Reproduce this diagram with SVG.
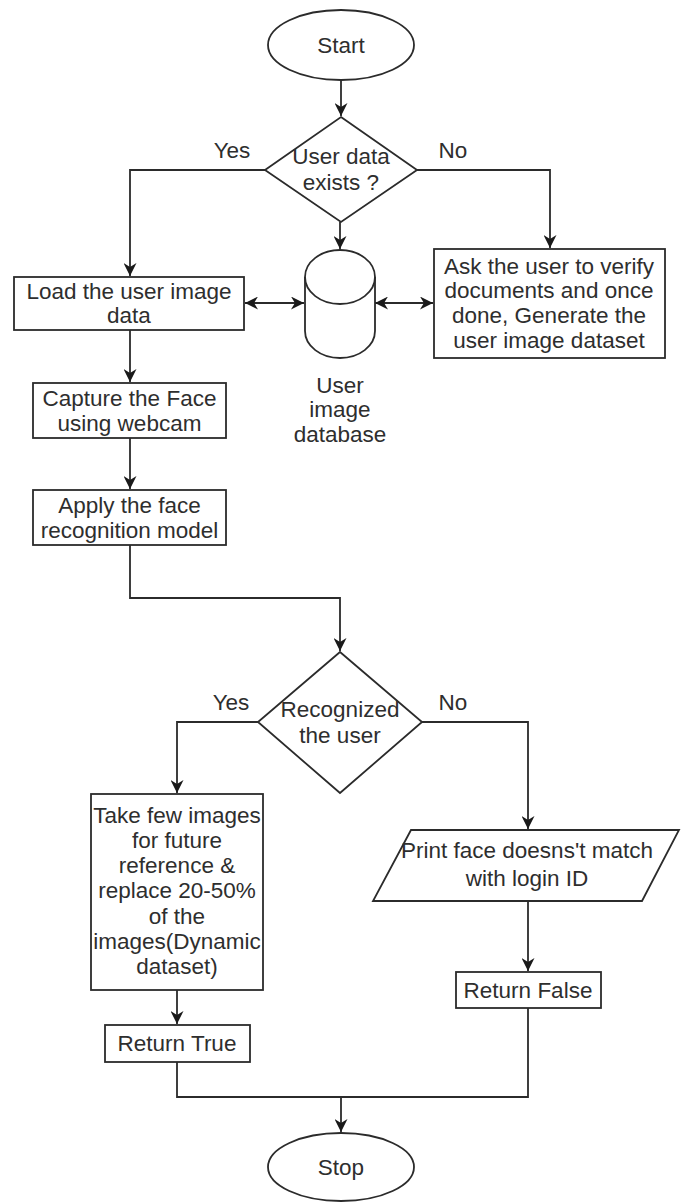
<svg xmlns="http://www.w3.org/2000/svg" width="683" height="1202" viewBox="0 0 683 1202">
<style>
.s{fill:#fff;stroke:#2b2b2b;stroke-width:1.8}
.c{fill:none;stroke:#2b2b2b;stroke-width:1.8}
text{font-family:"Liberation Sans",Arial,sans-serif;font-size:22.5px;fill:#2e2e2e;text-anchor:middle}
</style>
<defs>
<marker id="a" viewBox="0 0 10 10" refX="10" refY="5" markerWidth="13" markerHeight="13" markerUnits="userSpaceOnUse" orient="auto-start-reverse">
<path d="M0,0 L10,5 L0,10 L3,5 z" fill="#1a1a1a"/>
</marker>
</defs>
<rect width="683" height="1202" fill="#fff"/>
<g id="connectors">
<path class="c" d="M341,80 V116" marker-end="url(#a)"/>
<path class="c" d="M265,170 H130 V276" marker-end="url(#a)"/>
<path class="c" d="M417,170 H550 V248" marker-end="url(#a)"/>
<path class="c" d="M340,222 V249" marker-end="url(#a)"/>
<path class="c" d="M245,303 H304" marker-start="url(#a)" marker-end="url(#a)"/>
<path class="c" d="M375,303 H433" marker-start="url(#a)" marker-end="url(#a)"/>
<path class="c" d="M130,330 V382" marker-end="url(#a)"/>
<path class="c" d="M130,438 V489" marker-end="url(#a)"/>
<path class="c" d="M130,545 V598 H340 V651" marker-end="url(#a)"/>
<path class="c" d="M258,722 H177 V793" marker-end="url(#a)"/>
<path class="c" d="M422,722 H528 V829" marker-end="url(#a)"/>
<path class="c" d="M177,990 V1024" marker-end="url(#a)"/>
<path class="c" d="M528,901 V971" marker-end="url(#a)"/>
<path class="c" d="M177,1062 V1097 H528 V1008"/>
<path class="c" d="M341,1097 V1132" marker-end="url(#a)"/>
</g>
<g id="start">
<ellipse class="s" cx="341" cy="45" rx="73" ry="35"/>
<text x="341" y="53">Start</text>
</g>
<g id="decision-user-data">
<polygon class="s" points="341,117 417,170 341,222 265,170"/>
<text x="341" y="164">User data</text>
<text x="341" y="190">exists ?</text>
</g>
<g id="label-yes-1"><text x="232" y="158">Yes</text></g>
<g id="label-no-1"><text x="453" y="158">No</text></g>
<g id="load">
<rect class="s" x="14" y="277" width="230" height="53"/>
<text x="129" y="299">Load the user image</text>
<text x="129" y="323">data</text>
</g>
<g id="database">
<path class="s" d="M305,277 A35,27 0 0 1 375,277 V331 A35,27 0 0 1 305,331 Z"/>
<path class="c" d="M305,277 A35,27 0 0 0 375,277"/>
<text x="340" y="393">User</text>
<text x="340" y="417">image</text>
<text x="340" y="442">database</text>
</g>
<g id="ask">
<rect class="s" x="434" y="249" width="231" height="109"/>
<text x="549" y="274">Ask the user to verify</text>
<text x="549" y="298">documents and once</text>
<text x="549" y="323">done, Generate the</text>
<text x="549" y="348">user image dataset</text>
</g>
<g id="capture">
<rect class="s" x="33" y="383" width="193" height="55"/>
<text x="129.5" y="406">Capture the Face</text>
<text x="129.5" y="431">using webcam</text>
</g>
<g id="apply">
<rect class="s" x="33" y="490" width="193" height="55"/>
<text x="129.5" y="513">Apply the face</text>
<text x="129.5" y="538">recognition model</text>
</g>
<g id="decision-recognized">
<polygon class="s" points="340,652 422,722 340,793 258,722"/>
<text x="340" y="717">Recognized</text>
<text x="340" y="743">the user</text>
</g>
<g id="label-yes-2"><text x="231" y="710">Yes</text></g>
<g id="label-no-2"><text x="453" y="710">No</text></g>
<g id="take-images">
<rect class="s" x="91" y="794" width="172" height="196"/>
<text x="177" y="823">Take few images</text>
<text x="177" y="848">for future</text>
<text x="177" y="873">reference &amp;</text>
<text x="177" y="898">replace 20-50%</text>
<text x="177" y="924">of the</text>
<text x="177" y="949">images(Dynamic</text>
<text x="177" y="974">dataset)</text>
</g>
<g id="print">
<polygon class="s" points="411,830 679,830 642,901 373,901"/>
<text x="527" y="858">Print face doesns't match</text>
<text x="527" y="886">with login ID</text>
</g>
<g id="return-false">
<rect class="s" x="456" y="972" width="145" height="36"/>
<text x="528" y="998">Return False</text>
</g>
<g id="return-true">
<rect class="s" x="105" y="1025" width="145" height="37"/>
<text x="177" y="1051">Return True</text>
</g>
<g id="stop">
<ellipse class="s" cx="341" cy="1167" rx="73" ry="34"/>
<text x="341" y="1175">Stop</text>
</g>
</svg>
